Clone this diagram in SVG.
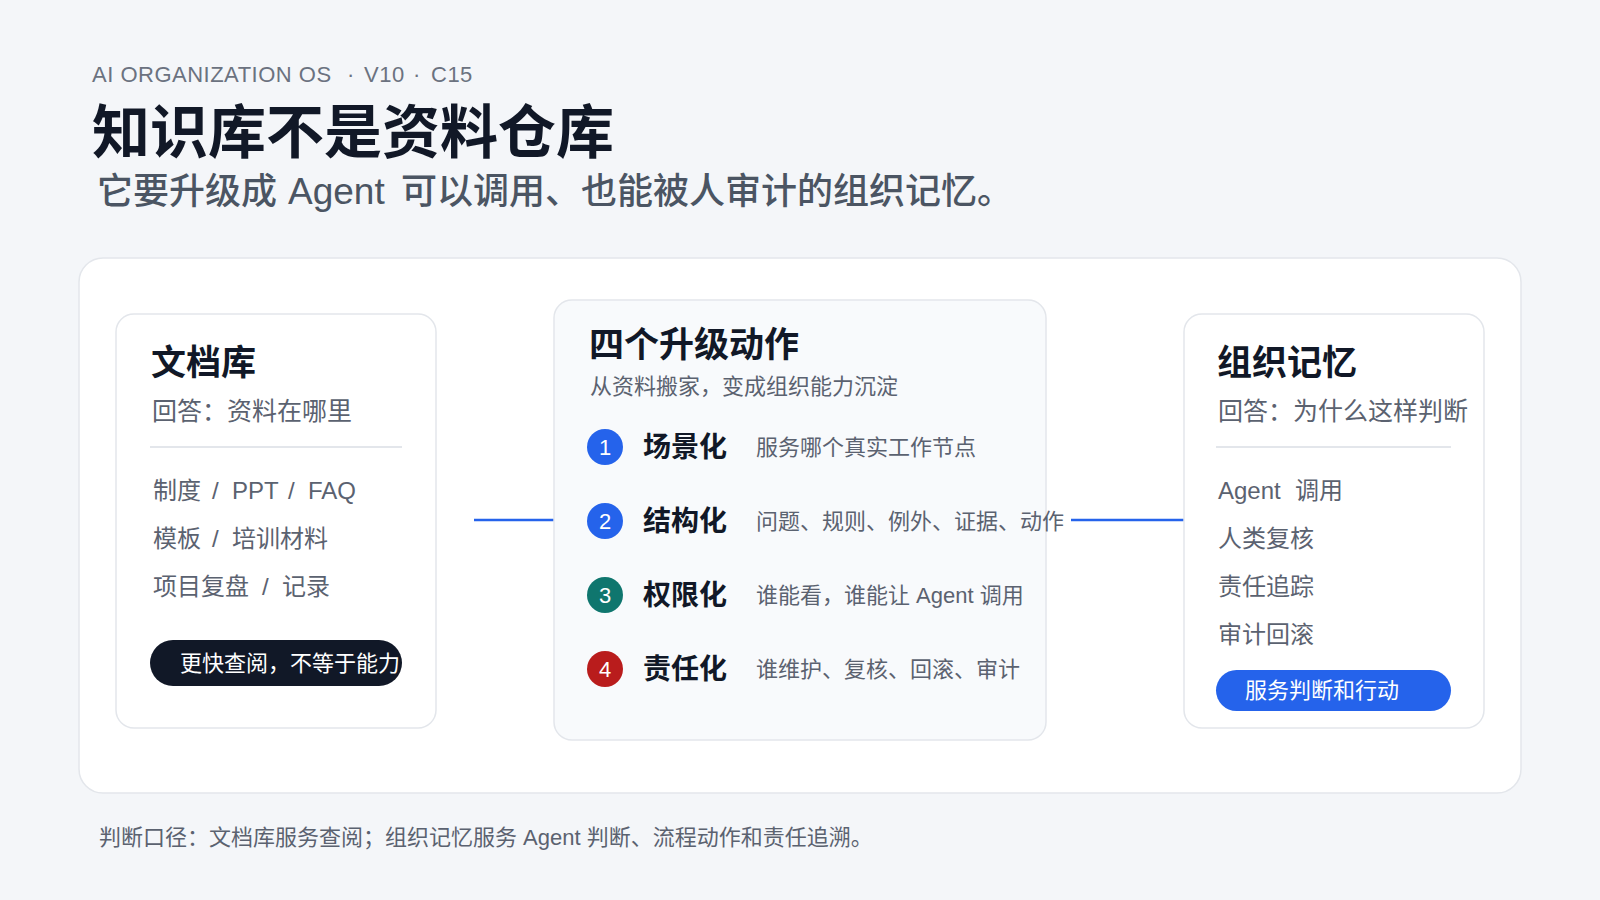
<svg xmlns="http://www.w3.org/2000/svg" width="1600" height="900" viewBox="0 0 1600 900">
  <style>
    text { font-family: "Liberation Sans", "Noto Sans CJK SC", sans-serif; }
    .eyebrow { font-size: 22px; fill: #6b7280; letter-spacing: 0.5px; }
    .title { font-size: 58px; font-weight: 700; fill: #111827; }
    .subtitle { font-size: 36px; font-weight: 500; fill: #4b5563; }
    .card { fill: #ffffff; stroke: #e3e6eb; stroke-width: 1.5; }
    .mid { fill: #f8fafc; stroke: #e3e6eb; stroke-width: 1.5; }
    .h { font-size: 35px; font-weight: 700; fill: #111827; }
    .q { font-size: 25px; fill: #5b6270; }
    .item { font-size: 24px; fill: #5b6270; }
    .div { stroke: #e3e6eb; stroke-width: 2; }
    .msub { font-size: 22px; fill: #5b6270; }
    .lab { font-size: 28px; font-weight: 700; fill: #111827; }
    .desc { font-size: 22px; fill: #5b6270; }
    .num { font-size: 22px; fill: #ffffff; text-anchor: middle; }
    .conn { stroke: #2563eb; stroke-width: 2.5; fill: none; }
    .foot { font-size: 22px; fill: #5b6270; }
  </style>
  <rect x="0" y="0" width="1600" height="900" fill="#f4f6f9"/>

  <g id="header">
    <text class="eyebrow" y="82"><tspan x="92">AI ORGANIZATION OS</tspan><tspan x="347">·</tspan><tspan x="364">V10</tspan><tspan x="413">·</tspan><tspan x="431">C15</tspan></text>
    <text class="title" x="92" y="153">知识库不是资料仓库</text>
    <text class="subtitle" y="204"><tspan x="97">它要升级成</tspan><tspan x="288" font-size="37">Agent</tspan><tspan x="401">可以调用、也能被人审计的组织记忆。</tspan></text>
  </g>

  <g id="panel">
    <rect class="card" x="79" y="258" width="1442" height="535" rx="24"/>
  </g>

  <g id="connectors">
    <line class="conn" x1="474" y1="520" x2="554" y2="520"/>
    <line class="conn" x1="1071" y1="520" x2="1184" y2="520"/>
  </g>

  <g id="doc-library">
    <rect class="card" x="116" y="314" width="320" height="414" rx="18"/>
    <text class="h" x="151" y="375">文档库</text>
    <text class="q" x="152" y="420">回答：资料在哪里</text>
    <line class="div" x1="150" y1="447" x2="402" y2="447"/>
    <text class="item" y="499"><tspan x="153">制度</tspan><tspan x="212">/</tspan><tspan x="232">PPT</tspan><tspan x="288">/</tspan><tspan x="308">FAQ</tspan></text>
    <text class="item" y="547"><tspan x="153">模板</tspan><tspan x="212">/</tspan><tspan x="232">培训材料</tspan></text>
    <text class="item" y="595"><tspan x="153">项目复盘</tspan><tspan x="262">/</tspan><tspan x="282">记录</tspan></text>
    <rect x="150" y="640" width="252" height="46" rx="23" fill="#111827"/>
    <text x="180" y="671" font-size="22" fill="#ffffff">更快查阅，不等于能力</text>
  </g>

  <g id="upgrade-actions">
    <rect class="mid" x="554" y="300" width="492" height="440" rx="18"/>
    <text class="h" x="589" y="357">四个升级动作</text>
    <text class="msub" x="590" y="394">从资料搬家，变成组织能力沉淀</text>

    <g id="step-1">
      <circle cx="605" cy="447" r="18" fill="#2563eb"/>
      <text class="num" x="605" y="455">1</text>
      <text class="lab" x="643" y="457">场景化</text>
      <text class="desc" x="756" y="455">服务哪个真实工作节点</text>
    </g>
    <g id="step-2">
      <circle cx="605" cy="521" r="18" fill="#2563eb"/>
      <text class="num" x="605" y="529">2</text>
      <text class="lab" x="643" y="531">结构化</text>
      <text class="desc" x="756" y="529">问题、规则、例外、证据、动作</text>
    </g>
    <g id="step-3">
      <circle cx="605" cy="595" r="18" fill="#0f766e"/>
      <text class="num" x="605" y="603">3</text>
      <text class="lab" x="643" y="605">权限化</text>
      <text class="desc" x="756" y="603">谁能看，谁能让 Agent 调用</text>
    </g>
    <g id="step-4">
      <circle cx="605" cy="669" r="18" fill="#b91c1c"/>
      <text class="num" x="605" y="677">4</text>
      <text class="lab" x="643" y="679">责任化</text>
      <text class="desc" x="756" y="677">谁维护、复核、回滚、审计</text>
    </g>
  </g>

  <g id="org-memory">
    <rect class="card" x="1184" y="314" width="300" height="414" rx="18"/>
    <text class="h" x="1217" y="375">组织记忆</text>
    <text class="q" x="1218" y="420">回答：为什么这样判断</text>
    <line class="div" x1="1216" y1="447" x2="1451" y2="447"/>
    <text class="item" y="499"><tspan x="1218">Agent</tspan><tspan x="1295">调用</tspan></text>
    <text class="item" x="1218" y="547">人类复核</text>
    <text class="item" x="1218" y="595">责任追踪</text>
    <text class="item" x="1218" y="643">审计回滚</text>
    <rect x="1216" y="670" width="235" height="41" rx="20.5" fill="#2563eb"/>
    <text x="1245" y="698" font-size="22" fill="#ffffff">服务判断和行动</text>
  </g>

  <g id="footer">
    <text class="foot" x="99" y="845">判断口径：文档库服务查阅；组织记忆服务 Agent 判断、流程动作和责任追溯。</text>
  </g>
</svg>
